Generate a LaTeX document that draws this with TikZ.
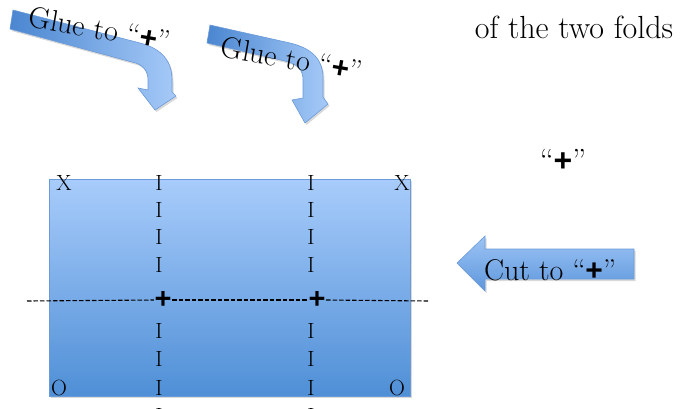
\documentclass[tikz,border=0pt]{standalone}
\usepackage{fontspec}
\newfontfamily\plusfont{Liberation Sans}
\usetikzlibrary{shadows}
\definecolor{sheettop}{RGB}{168,204,251}
\definecolor{sheetbot}{RGB}{79,143,214}
\definecolor{sheetedge}{RGB}{106,154,216}
\definecolor{glueleft}{RGB}{74,134,208}
\definecolor{glueright}{RGB}{166,202,248}
\definecolor{cuttop}{RGB}{157,196,245}
\definecolor{cutbot}{RGB}{94,151,220}
\newcommand{\bplus}{{\plusfont\bfseries +}}
\begin{document}
\begin{tikzpicture}[x=1pt,y=-1pt,
  lbl/.style={font=\fontsize{22}{24}\selectfont, inner sep=0pt},
  arrtxt/.style={font=\fontsize{30}{34}\selectfont, inner sep=0pt},
  bigtxt/.style={font=\fontsize{32}{36}\selectfont, inner sep=0pt},
  plusmark/.style={font=\fontsize{29}{30}\selectfont, inner sep=0.5pt},
  shadowed/.style={drop shadow={opacity=0.3, shadow xshift=1.5pt, shadow yshift=-2pt}},
  gluearrow/.style={draw=sheetedge, line width=0.6pt, left color=glueleft, right color=glueright, shadowed},
  foldline/.style={dashed, dash pattern=on 4.5pt off 2pt, line width=1.1pt}
]
\useasboundingbox (0,0) rectangle (687,408);

% sheet
\node[draw=sheetedge, line width=0.6pt, top color=sheettop, bottom color=sheetbot,
      minimum width=361pt, minimum height=217pt, inner sep=0pt, shadowed] (sheet) at (229.5,287.5) {};

% glue arrows
\path[gluearrow] (13,10) -- (140,43) .. controls (163,49) and (172,62) .. (172,80) -- (172,92) -- (176,96)
  -- (155,110) -- (138,88) -- (148,90) -- (148,80) .. controls (148,70) and (142,64) .. (132,62) -- (10,29) -- cycle;
\path[gluearrow] (210,25) -- (290,43) .. controls (315,49) and (323,62) .. (323,78) -- (323,97) -- (328,104)
  -- (305,123) -- (292,100) -- (303,98) -- (303,80) .. controls (303,70) and (298,64) .. (285,61) -- (207,43) -- cycle;

% cut arrow
\path[draw=sheetedge, line width=0.6pt, top color=cuttop, bottom color=cutbot, shadowed]
  (457,263) -- (485,236) -- (485,249) -- (634,249) -- (634,279) -- (485,279) -- (485,291) -- cycle;

% arrow texts
\node[arrtxt, rotate=-10] (glue1) at (100,29) {Glue to “\bplus”};
\node[arrtxt, rotate=-10] (glue2) at (292,59) {Glue to “\bplus”};
\node[arrtxt] (cut) at (550,270) {Cut to “\bplus”};

% right texts
\node[bigtxt] (folds) at (574,27) {of the two folds};
\node[bigtxt] (plusq) at (563,160) {“\bplus”};

% corner labels
\node[lbl] (x1) at (64,183) {X};
\node[lbl] (x2) at (402,183) {X};
\node[lbl] (o1) at (59,388) {O};
\node[lbl] (o2) at (397,388) {O};

% fold marks
\foreach \y [count=\i] in {183,210,237,265,331,359,388,416} {
  \node[lbl] (a\i) at (159,\y) {I};
  \node[lbl] (b\i) at (311,\y) {I};
}

% crossing points
\node[plusmark] (p1) at (163,300) {\bplus};
\node[plusmark] (p2) at (317,300) {\bplus};

% dashed fold line
\coordinate (dl) at (27,301);
\coordinate (dr) at (428,301);
\draw[foldline] (dl) -- (p1.west);
\draw[foldline] (p1.east) -- (p2.west);
\draw[foldline] (p2.east) -- (dr);
\end{tikzpicture}
\end{document}
